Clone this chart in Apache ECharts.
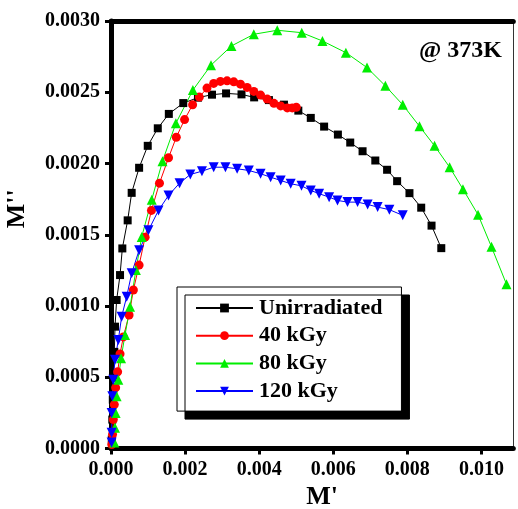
<!DOCTYPE html>
<html><head><meta charset="utf-8">
<script src="https://cdn.jsdelivr.net/npm/echarts@6/dist/echarts.min.js"></script>
<style>html,body{margin:0;padding:0;background:#fff}#c{width:518px;height:509px}</style>
</head><body><div id="c"></div>
<script>
const seriesNames = ['Unirradiated', '40 kGy', '80 kGy', '120 kGy'];
const xTicks = [0, 0.002, 0.004, 0.006, 0.008, 0.010];
const yTicks = [0, 0.0005, 0.0010, 0.0015, 0.0020, 0.0025, 0.0030];
const annotation = '@ 373K';
const xTitle = "M'";
const yTitle = "M''";

const unirradiated = [
[0.0000217,0.0000629],[0.0000352,0.000203],[0.0000488,0.000343],[0.0000623,0.000496],[0.0000894,0.000678],
[0.000108,0.000855],[0.000152,0.001042],[0.000244,0.001217],[0.000306,0.001404],[0.000450,0.001601],
[0.000558,0.001794],[0.000759,0.001970],[0.000992,0.002124],[0.001263,0.002247],[0.001561,0.002348],
[0.001951,0.002424],[0.002347,0.002462],[0.002726,0.002483],[0.003106,0.002492],[0.003523,0.002485],
[0.003864,0.002464],[0.004263,0.002445],[0.004669,0.002413],[0.005057,0.002371],[0.005393,0.002320],
[0.005753,0.002259],[0.006125,0.002203],[0.006458,0.002147],[0.006791,0.002086],[0.007135,0.002021],
[0.007453,0.001956],[0.007724,0.001876],[0.008057,0.001792],[0.008374,0.001690],[0.008653,0.001564],
[0.008916,0.001406]
];
const kGy40 = [
[0.0000217,0.000028],[0.0000407,0.0000979],[0.0000623,0.000203],[0.0000894,0.000308],[0.000125,0.000427],
[0.000179,0.000538],[0.000244,0.000664],[0.000333,0.000783],[0.000488,0.000937],[0.000604,0.001112],
[0.000759,0.001287],[0.000921,0.001483],[0.001092,0.001671],[0.001309,0.001862],[0.001553,0.002040],
[0.001762,0.002184],[0.001986,0.002308],[0.002203,0.002412],[0.002385,0.002466],[0.002591,0.002529],
[0.002772,0.002562],[0.002954,0.002576],[0.003133,0.002580],[0.003314,0.002573],[0.003496,0.002557],
[0.003675,0.002534],[0.003856,0.002506],[0.004038,0.002480],[0.004217,0.002452],[0.004398,0.002422],
[0.004580,0.002404],[0.004759,0.002390],[0.004894,0.002390],[0.005003,0.002394]
];
const kGy80 = [
[0.0000894,0.000042],[0.000108,0.000145],[0.000125,0.000250],[0.000152,0.000366],[0.000198,0.000483],
[0.000271,0.000634],[0.000379,0.000797],[0.000515,0.000995],[0.000672,0.001252],[0.000829,0.001485],
[0.001100,0.001746],[0.001390,0.002016],[0.001751,0.002282],[0.002211,0.002515],[0.002699,0.002690],
[0.003252,0.002825],[0.003856,0.002907],[0.004488,0.002935],[0.005149,0.002918],[0.005707,0.002860],
[0.006341,0.002778],[0.006911,0.002673],[0.007406,0.002545],[0.007875,0.002412],[0.008328,0.002261],
[0.008734,0.002124],[0.009141,0.001974],[0.009501,0.001820],[0.009908,0.001641],[0.010271,0.001415],
[0.010677,0.001152]
];
const kGy120 = [
[0.0000163,0.000042],[0.0000163,0.000110],[0.0000163,0.000250],[0.0000352,0.000366],[0.0000623,0.000483],
[0.000108,0.000622],[0.000198,0.000762],[0.000287,0.000925],[0.000423,0.001065],[0.000558,0.001229],
[0.000759,0.001392],[0.001011,0.001531],[0.001282,0.001671],[0.001553,0.001776],[0.001851,0.001862],
[0.002141,0.001923],[0.002455,0.001946],[0.002772,0.001974],[0.003089,0.001974],[0.003404,0.001963],
[0.003721,0.001951],[0.004038,0.001928],[0.004309,0.001904],[0.004580,0.001881],[0.004851,0.001858],
[0.005143,0.001843],[0.005393,0.001811],[0.005618,0.001788],[0.005889,0.001764],[0.006114,0.001741],
[0.006385,0.001729],[0.006656,0.001729],[0.006927,0.001713],[0.007198,0.001694],[0.007515,0.001676],
[0.007875,0.001636]
];

const FONT = '"Liberation Serif", "Times New Roman", serif';
const chart = echarts.init(document.getElementById('c'), null, {renderer: 'canvas'});

function mkSeries(name, data, color, symbol, size) {
  return {
    name: name, type: 'line', data: data,
    symbol: symbol, symbolSize: size,
    lineStyle: {color: color, width: 1},
    itemStyle: {color: color},
    showAllSymbol: true,
    animation: false
  };
}
const downTri = 'path://M0,0 L10,0 L5,9 Z';

chart.setOption({
  animation: false,
  backgroundColor: '#fff',
  title: {
    text: annotation, right: 11, top: 34,
    textStyle: {fontFamily: FONT, fontWeight: 'bold', fontSize: 24, color: '#000'}
  },
  grid: {left: 111, right: 4.7, top: 21, bottom: 60.5, containLabel: false, outerBoundsMode: 'none'},
  legend: {
    data: seriesNames,
    orient: 'vertical', left: 177, top: 287,
    padding: [10, 19, 9, 18],
    itemWidth: 57, itemHeight: 11, itemGap: 5.7,
    backgroundColor: '#fff', borderColor: '#000', borderWidth: 1,
    shadowColor: '#000', shadowBlur: 0, shadowOffsetX: 8, shadowOffsetY: 8,
    textStyle: {fontFamily: FONT, fontWeight: 'bold', fontSize: 22, color: '#000', padding: [0,0,0,1]}
  },
  xAxis: [{
    type: 'value', min: 0, max: 0.01086,
    name: xTitle, nameLocation: 'middle', nameGap: 36,
    nameTextStyle: {fontFamily: FONT, fontWeight: 'bold', fontSize: 26, color: '#000', padding: [0,0,0,20]},
    axisLine: {show: true, onZero: false, lineStyle: {color: '#000', width: 5}},
    axisTick: {show: true, inside: false, length: 6, customValues: xTicks, lineStyle: {color: '#000', width: 3}},
    axisLabel: {customValues: xTicks, margin: 11, fontFamily: FONT, fontWeight: 'bold', fontSize: 20, color: '#000',
      formatter: v => v.toFixed(3)},
    splitLine: {show: false}
  }, {
    type: 'value', min: 0, max: 0.01086, position: 'top',
    axisLine: {show: true, onZero: false, lineStyle: {color: '#000', width: 5}},
    axisTick: {show: false}, axisLabel: {show: false}, splitLine: {show: false}
  }],
  yAxis: [{
    type: 'value', min: 0, max: 0.003, interval: 0.0005,
    name: yTitle, nameLocation: 'middle', nameGap: 81, nameRotate: 90,
    nameTextStyle: {fontFamily: FONT, fontWeight: 'bold', fontSize: 26, color: '#000', padding: [0,0,0,52]},
    axisLine: {show: true, onZero: false, lineStyle: {color: '#000', width: 5}},
    axisTick: {show: true, inside: false, length: 6, lineStyle: {color: '#000', width: 3}},
    axisLabel: {margin: 11, fontFamily: FONT, fontWeight: 'bold', fontSize: 20, color: '#000',
      formatter: v => v.toFixed(4)},
    splitLine: {show: false}
  }, {
    type: 'value', min: 0, max: 0.003, position: 'right',
    axisLine: {show: true, onZero: false, lineStyle: {color: '#333', width: 1}},
    axisTick: {show: false}, axisLabel: {show: false}, splitLine: {show: false}
  }],
  series: [
    mkSeries(seriesNames[0], unirradiated, '#000000', 'rect', 8),
    mkSeries(seriesNames[1], kGy40, '#ff0000', 'circle', 9),
    mkSeries(seriesNames[2], kGy80, '#00ee00', 'triangle', 10),
    mkSeries(seriesNames[3], kGy120, '#0000ff', downTri, 10)
  ]
});
</script></body></html>
